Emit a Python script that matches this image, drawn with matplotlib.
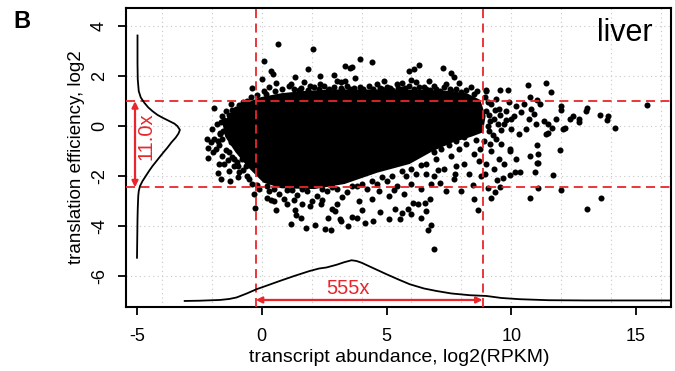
import matplotlib

matplotlib.use("Agg")
import matplotlib.pyplot as plt
from matplotlib.patches import Polygon

plt.rcParams["font.family"] = ["Liberation Sans", "DejaVu Sans"]
plt.rcParams["axes.unicode_minus"] = False

RED = "#E8262B"
GRID = "#C8C8C8"

# dense saturated core of the cloud (outline)
core_x = [-1.5, -1.2, -0.8, -0.4, 0.0, 0.8, 1.8, 3.0, 4.2, 5.4, 6.5, 7.4, 8.2,
          8.7, 8.9, 8.8, 8.4, 7.6, 6.8, 5.9, 4.6, 3.3, 2.1, 0.8, 0.1, -0.5,
          -1.0, -1.4]
core_y = [0.1, 0.45, 0.75, 0.95, 1.1, 1.25, 1.35, 1.4, 1.4, 1.4, 1.38, 1.35,
          1.25, 1.0, 0.4, -0.2, -0.35, -0.6, -0.95, -1.45, -1.8, -2.25, -2.45,
          -2.42, -2.2, -1.6, -1.0, -0.4]

# individual genes outside the saturated core
genes = [
    (0.65, 3.28), (2.07, 3.1), (0.07, 2.6), (0.39, 2.19), (0.47, 2.1),
    (1.85, 2.3), (1.32, 1.96), (2.32, 2.0), (2.88, 2.03), (0.01, 1.9),
    (-1.9, 0.71), (-0.39, 1.52), (0.09, 1.4), (-1.21, 0.63), (-1.11, 0.58),
    (-0.91, 0.3), (-1.35, 0.0), (-1.67, -0.3), (0.59, 1.74), (1.19, 1.67),
    (1.59, 1.54), (1.92, 1.6), (2.32, 1.7), (2.66, 1.43), (3.19, 1.54),
    (3.33, 2.39), (3.53, 2.32), (3.62, 2.36), (3.94, 2.67), (4.41, 2.55),
    (3.75, 1.91), (3.19, 1.77), (3.35, 1.79), (5.9, 2.19), (6.09, 2.3),
    (6.29, 2.43), (5.6, 1.71), (6.2, 1.78), (6.7, 1.79), (7.27, 2.32),
    (7.57, 2.12), (7.71, 1.96), (7.9, 1.74), (7.4, 1.67), (7.53, 1.5),
    (8.64, 1.42), (9.0, 1.4), (4.73, 1.54), (5.2, 1.44), (5.46, 1.54),
    (5.73, 1.54), (4.06, 1.5), (6.6, 1.47), (7.13, 1.4),
    (10.65, 1.64), (11.41, 1.72), (11.61, 1.38), (9.0, 1.43), (9.54, 1.43),
    (9.87, 1.43), (10.74, 1.16), (11.03, 1.04), (11.14, 0.87), (12.01, 0.8),
    (12.01, 0.64), (13.04, 0.71), (13.01, 0.6), (13.55, 0.43), (13.88, 0.4),
    (13.84, 0.23), (14.14, -0.09), (12.35, 0.3), (12.48, 0.4), (12.7, 0.27),
    (12.7, 0.16), (12.15, -0.07), (12.08, -0.13), (11.78, 0.3), (11.65, -0.07),
    (11.48, -0.29), (11.94, -0.97), (11.05, -0.77), (11.07, -1.13),
    (11.07, -1.47), (10.74, -1.2), (9.94, -0.91), (9.94, -1.0), (11.31, 0.2),
    (11.48, 0.07), (15.42, 0.83), (11.41, -0.33),
    (11.05, -1.49), (10.94, -1.82), (11.68, -1.97), (11.08, -2.49),
    (10.74, -2.86), (12.01, -2.57), (13.04, -3.3), (13.59, -2.89),
    (9.2, -2.89), (9.34, -2.62), (9.54, -2.44), (9.07, -2.46), (9.41, -2.17),
    (9.67, -2.06), (9.94, -1.97), (10.14, -1.82), (10.34, -1.82),
    (6.91, -4.9), (6.67, -4.17), (6.77, -3.96), (5.53, -3.73), (5.1, -3.7),
    (6.0, -3.53), (6.4, -3.66), (5.86, -3.33), (4.73, -3.42), (4.46, -3.8),
    (4.13, -3.86), (3.8, -3.66), (3.6, -3.62), (8.5, -2.93), (8.67, -3.37),
    (6.73, -2.9), (6.27, -3.13), (7.13, -2.26), (6.91, -2.0), (7.74, -1.9),
    (8.47, -2.37), (6.07, -3.07), (6.53, -3.07), (6.6, -3.4), (5.33, -3.33),
    (5.6, -3.47), (3.46, -4.0), (3.19, -3.8), (2.79, -4.16),
    (-2.15, -0.86), (-2.15, -1.26), (-1.75, -1.86), (-1.64, -2.13),
    (-1.28, -2.2), (-0.95, -2.04), (-0.28, -3.26), (-0.31, -2.73),
    (0.59, -3.37), (0.19, -2.86), (0.39, -2.96), (1.19, -3.93), (1.79, -4.06),
    (1.32, -3.37), (1.39, -3.56), (1.56, -3.66), (2.12, -3.97), (2.53, -4.1),
    (3.13, -3.73), (1.92, -3.2), (2.39, -3.13), (2.66, -3.66), (2.93, -3.4),
    (-1.68, -0.27), (-1.75, -0.6),
    # fringe around the core
    (0.3, 1.55), (0.8, 1.5), (1.1, 1.62), (1.5, 1.45), (2.1, 1.58),
    (2.5, 1.62), (2.9, 1.55), (3.4, 1.6), (3.7, 1.52), (4.3, 1.62),
    (4.6, 1.7), (5.0, 1.58), (5.4, 1.68), (5.9, 1.6), (6.3, 1.55),
    (6.9, 1.62), (7.3, 1.55), (7.8, 1.48), (8.2, 1.45), (8.4, 1.55),
    (1.7, 1.75), (4.9, 1.8), (6.0, 1.85), (3.0, 1.82), (-0.2, 1.25),
    (-0.6, 1.0), (-0.9, 0.85),
    (0.15, 1.3), (0.55, 1.4), (1.3, 1.5), (1.85, 1.45), (2.3, 1.5),
    (2.7, 1.5), (3.2, 1.45), (3.55, 1.48), (3.95, 1.55), (4.45, 1.5),
    (4.8, 1.5), (5.15, 1.52), (5.6, 1.5), (6.1, 1.5), (6.5, 1.55),
    (6.75, 1.45), (7.0, 1.5), (7.6, 1.42), (8.0, 1.38), (8.5, 1.3),
    (-0.45, 1.15), (-0.75, 0.95), (-1.05, 0.7), (-1.3, 0.45),
    (-1.6, 0.4), (-1.8, 0.1), (-1.9, -0.5), (-2.0, -0.1), (-1.85, -0.9),
    (-1.6, -1.2), (-1.5, -1.5), (-1.3, -1.8), (-1.1, -1.6), (-1.7, -1.5),
    (-1.45, 0.6), (-1.25, 0.9), (-2.2, -0.5), (-1.2, -1.25), (-0.9, -1.85),
    (-0.6, -2.0), (-0.4, -2.3),
    (-1.55, -0.2), (-1.65, 0.15), (-1.7, -0.75), (-1.45, -0.95),
    (-1.35, -1.35), (-1.1, -1.3), (-0.95, -1.6), (-0.75, -1.75),
    (-0.5, -2.1), (-0.2, -2.35), (-1.95, -1.05), (-2.05, -0.65),
    (-1.5, 0.25), (-1.6, -0.5), (-1.3, -1.05), (-1.0, -1.45), (-0.8, -1.3),
    (-0.65, -1.6), (-1.25, -0.65), (-1.05, 0.2),
    (-0.1, -2.5), (0.3, -2.6), (0.7, -2.7), (1.0, -2.55), (1.4, -2.75),
    (1.8, -2.6), (2.2, -2.8), (2.6, -2.6), (3.0, -2.5), (3.4, -2.65),
    (3.8, -2.4), (4.2, -2.5), (4.6, -2.3), (5.0, -2.2), (5.4, -2.4),
    (5.8, -2.0), (6.2, -1.9), (0.5, -3.0), (1.0, -3.1), (2.0, -3.0),
    (3.0, -3.1), (3.9, -3.0), (4.4, -2.9), (5.1, -2.8), (5.7, -2.7),
    (6.4, -2.5), (2.8, -3.3), (4.0, -3.35), (0.9, -2.9), (1.6, -3.1),
    (0.2, -2.4), (0.5, -2.5), (1.2, -2.55), (1.6, -2.5), (2.4, -2.5),
    (2.8, -2.45), (3.6, -2.4), (4.0, -2.3), (4.4, -2.2), (4.8, -2.05),
    (5.2, -2.0), (5.6, -1.8), (6.0, -1.7), (6.4, -1.55), (3.2, -2.85),
    (2.4, -2.95), (1.3, -2.95), (4.7, -2.6), (5.3, -2.55), (6.0, -2.3),
    (6.6, -1.5), (7.0, -1.3), (7.3, -1.7), (7.6, -1.2), (7.9, -0.9),
    (8.2, -0.7), (8.5, -1.1), (8.1, -1.5), (7.7, -2.1), (8.3, -1.9),
    (8.7, -1.4), (8.8, -2.0), (6.8, -2.3), (7.4, -2.6), (8.0, -2.6),
    (6.9, -1.05), (7.2, -0.9), (7.5, -0.75), (7.8, -0.6), (8.1, -0.45),
    (8.6, -0.55), (8.75, -0.9), (7.05, -1.75), (7.8, -1.6), (6.6, -1.9),
    (9.2, 0.9), (9.5, 0.7), (9.8, 0.6), (10.1, 0.4), (10.4, 0.55),
    (10.7, 0.3), (10.9, 0.5), (9.3, 0.3), (9.7, 0.1), (10.0, -0.1),
    (10.3, -0.3), (9.1, -0.2), (9.4, -0.5), (9.6, -0.7), (10.6, -0.1),
    (11.0, 0.1), (10.2, 0.8), (9.0, 0.6), (9.9, 0.95), (10.5, 0.9),
    (8.9, -0.6), (9.2, -1.0), (9.5, -1.3), (9.0, -1.5), (9.3, -1.7),
    (9.7, -1.5), (10.2, -1.3), (8.95, -1.9), (9.15, 0.2), (8.95, 1.15),
    (9.4, 1.1), (10.0, 0.3), (10.8, 0.7),
    (9.05, 0.95), (9.1, 0.45), (9.35, 0.65), (9.05, 0.0), (9.25, -0.35),
    (9.55, 0.45), (9.6, -0.15), (9.8, 0.25), (9.15, -0.7), (9.45, 0.1),
]
gene_x = [g[0] for g in genes]
gene_y = [g[1] for g in genes]

# marginal density of translation efficiency (drawn sideways at x = -5)
te_grid = [3.63, 2.5, 1.87, 1.4, 1.15, 0.94, 0.75, 0.6, 0.45, 0.34, 0.2, 0.1,
           0.0, -0.15, -0.3, -0.46, -0.65, -0.86, -1.05, -1.26, -1.45, -1.6,
           -1.8, -2.0, -2.2, -2.4, -2.6, -2.8, -3.3, -3.73, -4.5, -5.27]
te_dens = [0.02, 0.02, 0.03, 0.07, 0.15, 0.29, 0.45, 0.62, 0.82, 1.02, 1.3,
           1.5, 1.62, 1.72, 1.66, 1.55, 1.38, 1.22, 1.06, 0.89, 0.74, 0.62,
           0.48, 0.35, 0.22, 0.12, 0.07, 0.05, 0.03, 0.02, 0.01, 0.0]
te_base = -5.0

# marginal density of transcript abundance (drawn at y = -7)
ab_grid = [-3.09, -2.5, -1.68, -1.3, -1.01, -0.6, -0.21, 0.3, 0.72, 1.3,
           1.92, 2.3, 2.59, 3.0, 3.3, 3.6, 3.8, 4.0, 4.5, 5.0, 5.5, 5.93, 6.5,
           7.0, 7.6, 8.34, 9.0, 9.6, 10.34, 11.5, 13.0, 16.35]
ab_dens = [0.0, 0.01, 0.04, 0.08, 0.14, 0.3, 0.47, 0.65, 0.8, 1.0, 1.2, 1.3,
           1.34, 1.45, 1.55, 1.63, 1.6, 1.53, 1.3, 1.07, 0.85, 0.67, 0.5, 0.4,
           0.3, 0.23, 0.2, 0.12, 0.07, 0.03, 0.02, 0.02]
ab_base = -7.0

# 95% ranges
te_cut = [-2.45, 1.0]
ab_cut = [-0.24, 8.85]
te_fold = "11.0x"
ab_fold = "555x"

fig = plt.figure(figsize=(6.75, 3.71), dpi=100)
ax = fig.add_axes([0.1867, 0.1733, 0.8081, 0.8051])
ax.set_xlim(-5.44, 16.42)
ax.set_ylim(-7.23, 4.73)

for gx in range(-4, 17, 2):
    ax.axvline(gx, color=GRID, lw=0.8, dashes=(1, 3), zorder=0)
for gy in range(-6, 5, 2):
    ax.axhline(gy, color=GRID, lw=0.8, dashes=(1, 3), zorder=0)

ax.add_patch(Polygon(list(zip(core_x, core_y)), closed=True,
                     facecolor="black", edgecolor="black", lw=2.5, zorder=2))
ax.scatter(gene_x, gene_y, s=19, color="black", linewidths=0, zorder=2)

for c in ab_cut:
    ax.axvline(c, color=RED, lw=1.3, dashes=(5, 3), zorder=3)
for c in te_cut:
    ax.axhline(c, color=RED, lw=1.3, dashes=(5, 3), zorder=3)

ax.plot([te_base + d for d in te_dens], te_grid, color="black", lw=1.3, zorder=4)
ax.plot(ab_grid, [ab_base + d for d in ab_dens], color="black", lw=1.3, zorder=4)

arrow = dict(arrowstyle="<|-|>", color=RED, lw=1.6, mutation_scale=9,
             shrinkA=0, shrinkB=0)
ax.annotate("", xy=(-5.08, te_cut[0]), xytext=(-5.08, te_cut[1]),
            arrowprops=arrow, zorder=5)
ax.annotate("", xy=(ab_cut[0], -6.96), xytext=(ab_cut[1], -6.96),
            arrowprops=arrow, zorder=5)
ax.text(-4.62, -0.4, te_fold, color=RED, fontsize=14.5, rotation=90,
        ha="center", va="center", zorder=5)
ax.text(3.46, -6.5, ab_fold, color=RED, fontsize=14.5,
        ha="center", va="center", zorder=5)

ax.text(0.966, 0.965, "liver", transform=ax.transAxes, fontsize=22,
        ha="right", va="top")

ax.set_xticks([-5, 0, 5, 10, 15])
ax.set_yticks([-6, -4, -2, 0, 2, 4])
ax.tick_params(direction="out", length=6, width=1.3, labelsize=13)
ax.tick_params(axis="x", pad=9)
ax.tick_params(axis="y", pad=7)
for lbl in ax.get_yticklabels():
    lbl.set_rotation(90)
    lbl.set_va("center")
for sp in ax.spines.values():
    sp.set_linewidth(1.5)

ax.set_xlabel("transcript abundance, log2(RPKM)", fontsize=14, labelpad=3)
ax.set_ylabel("translation efficiency, log2", fontsize=13.5, labelpad=4)

fig.text(22 / 675, 1 - 21 / 371, "B", fontsize=17, fontweight="bold",
         ha="center", va="center")

fig.savefig("out.png", dpi=100)
